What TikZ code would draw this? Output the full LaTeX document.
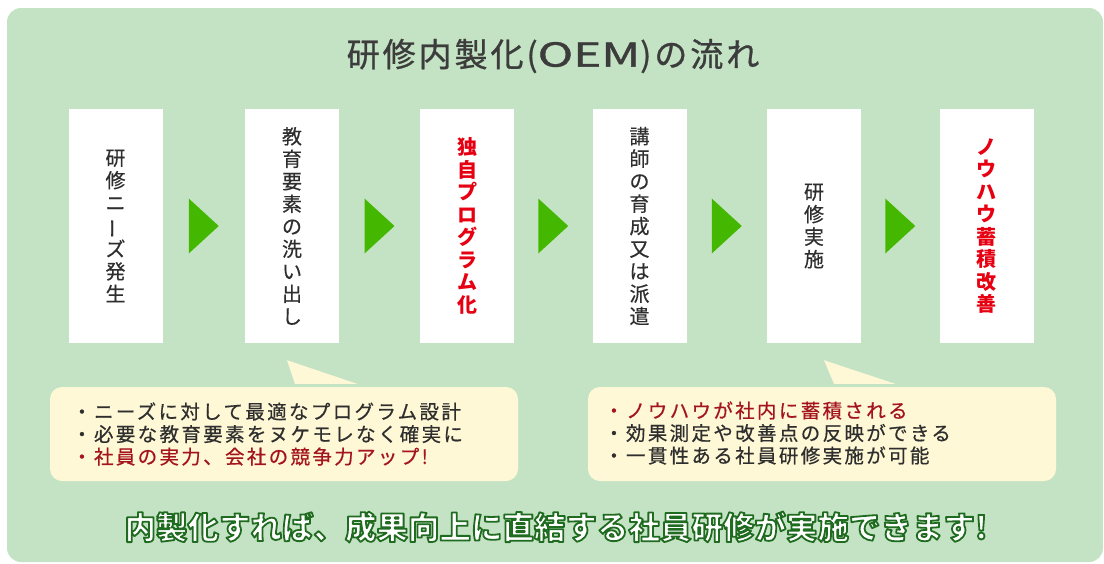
\documentclass[tikz,border=0pt]{standalone}
\usepackage{fontspec}
\usepackage{graphicx}
\usetikzlibrary{calc}
\newfontfamily\jp{Noto Sans CJK JP}
\newfontfamily\jpb[FakeBold=0.4]{Noto Sans CJK JP}
\newfontfamily\jpls[LetterSpace=12,FakeBold=0.6]{Noto Sans CJK JP}
\newfontfamily\jpt[LetterSpace=9,FakeBold=0.9]{Noto Sans CJK JP}
\definecolor{bggreen}{HTML}{C4E3C4}
\definecolor{arrgreen}{HTML}{44B800}
\definecolor{txtgray}{HTML}{2E2E2E}
\definecolor{ttlgray}{HTML}{3C3C3C}
\definecolor{hlred}{HTML}{E60012}
\definecolor{dkred}{HTML}{A3141E}
\definecolor{cream}{HTML}{FFF8D6}
\definecolor{outgreen}{HTML}{1F6B1F}
\newcommand{\vbar}{\rotatebox[origin=c]{90}{ー}}
% white text with a dark green outline (fill + stroke render mode)
\newcommand{\outlined}[1]{\special{pdf:literal direct 0.122 0.42 0.122 RG 1.8 w 1 j 2 Tr}#1\special{pdf:literal direct 0 Tr 0.3985 w 0 j}}
\tikzset{
  stepbox/.style={fill=white, minimum width=94pt, minimum height=234pt, inner sep=0pt,
    align=center, text=txtgray, font=\jpb\fontsize{20}{22.5}\selectfont},
  keybox/.style={stepbox, text=hlred, font=\jp\bfseries\fontsize{20}{22.5}\selectfont},
  flowarrow/.style={fill=arrgreen},
  callout/.style={fill=cream, rounded corners=12pt, minimum width=468pt, minimum height=94pt, inner sep=0pt},
  callouttext/.style={anchor=west, align=left, inner sep=0pt, text=txtgray,
    font=\jpls\fontsize{19.5}{22.5}\selectfont},
}
\begin{document}
\begin{tikzpicture}[x=1pt,y=-1pt]
\useasboundingbox (0,0) rectangle (1104,563);
\fill[bggreen, rounded corners=14pt] (7,8) rectangle (1103,562);

\node[font=\jp\bfseries\fontsize{31.5}{36}\selectfont, text=white] (msg) at (556,527)
  {\outlined{内製化すれば、成果向上に直結する社員研修が実施できます!}};

\node[font=\jpt\fontsize{33}{36}\selectfont, text=ttlgray] (title) at (553,56)
  {研修内製化({\addfontfeature{LetterSpace=0}\scalebox{1.45}[1]{OEM}})の流れ};

\node[stepbox] (b1) at (115.5,226) {研\\修\\ニ\\\vbar\\ズ\\発\\生};
\node[stepbox] (b2) at (292,226) {教\\育\\要\\素\\の\\洗\\い\\出\\し};
\node[keybox]  (b3) at (467,226) {独\\自\\プ\\ロ\\グ\\ラ\\ム\\化};
\node[stepbox] (b4) at (639.5,226) {講\\師\\の\\育\\成\\又\\は\\派\\遣};
\node[stepbox] (b5) at (814,226) {研\\修\\実\\施};
\node[keybox]  (b6) at (986.5,226) {ノ\\ウ\\ハ\\ウ\\蓄\\積\\改\\善};

\foreach \a/\b in {b1/b2,b2/b3,b3/b4,b4/b5,b5/b6}
  \fill[flowarrow] ($(\a.east)!0.5!(\b.west)$) ++(-15,-27.5) -- ++(30,27.5) -- ++(-30,27.5) -- cycle;

\node[callout] (c1) at (284,434) {};
\fill[cream] ($(b2.south)+(-5,17)$) -- ($(c1.north)+(11,-3)$) -- ($(c1.north)+(73,-3)$) -- cycle;
\node[callout] (c2) at (822,434) {};
\fill[cream] ($(b5.south)+(10,17)$) -- ($(c2.north)+(12,-3)$) -- ($(c2.north)+(73,-3)$) -- cycle;

\node[callouttext] (t1) at (72,434)
  {・ニーズに対して最適なプログラム設計\\
   ・必要な教育要素をヌケモレなく確実に\\
   \textcolor{dkred}{・社員の実力、会社の競争力アップ!}};
\node[callouttext] (t2) at (604,433)
  {\textcolor{dkred}{・ノウハウが社内に蓄積される}\\
   ・効果測定や改善点の反映ができる\\
   ・一貫性ある社員研修実施が可能};
\end{tikzpicture}
\end{document}
